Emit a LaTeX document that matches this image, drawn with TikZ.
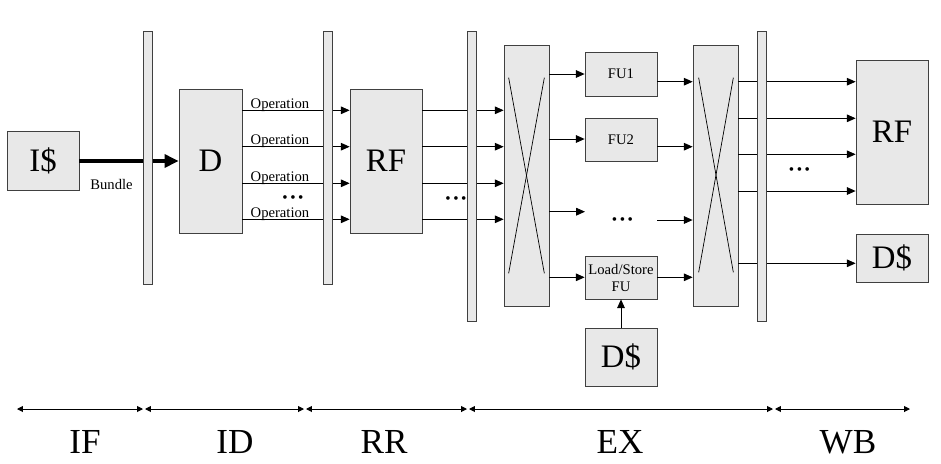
\documentclass[tikz,border=0pt]{standalone}
\usepackage{fontspec}
\setmainfont{Liberation Serif}
\usetikzlibrary{arrows.meta,calc}
\newcommand{\tdots}{\textbullet\kern2.2pt\textbullet\kern2.2pt\textbullet}
\tikzset{
  px/.style 2 args={minimum width=#1*0.03cm, minimum height=#2*0.03cm},
  blk/.style={draw=black!75, fill=black!9, line width=0.6pt, inner sep=0pt},
  latch/.style={blk, minimum width=9*0.03cm},
  big/.style={font=\fontsize{28}{28}\selectfont},
  small/.style={font=\fontsize{12.5}{14.5}\selectfont, align=center},
  dotsnode/.style={font=\fontsize{13}{13}\selectfont, inner sep=0pt, text height=5.5pt, text depth=-1.2pt},
  wire/.style={line width=0.8pt, -{Triangle[length=7.5pt,width=6.5pt]}},
  stagearr/.style={line width=0.8pt, {Triangle[length=5pt,width=5pt]}-{Triangle[length=5pt,width=5pt]}},
  stage/.style={font=\fontsize{30}{30}\selectfont, anchor=base, inner sep=0pt}
}
\begin{document}
\begin{tikzpicture}[x=0.03cm, y=-0.03cm]
  \useasboundingbox (0,0) rectangle (941,463);
  %%%%% BLOCKS %%%%%
  \node[blk, big, px={72}{59}] (icache) at (43,161) {I\$};
  \node[blk, big, px={63}{144}] (dec) at (210.5,161) {D};
  \node[blk, big, px={72}{144}] (rfa) at (386,161) {RF};
  \node[blk, px={45}{261}] (xba) at (526.5,175.5) {};
  \node[blk, small, px={72}{44}] (fua) at (621,74) {FU1};
  \node[blk, small, px={72}{43}] (fub) at (621,139.5) {FU2};
  \node[blk, small, px={72}{43}] (lsu) at (621,277.5) {Load/Store\\FU};
  \node[blk, big, px={72}{58}] (dcachea) at (621,357) {D\$};
  \node[blk, px={45}{261}] (xbb) at (715.5,175.5) {};
  \node[blk, big, px={72}{144}] (rfb) at (892,132) {RF};
  \node[blk, big, px={72}{48}] (dcacheb) at (892,258) {D\$};

  \draw[line width=0.6pt] ($(xba.north west)+(5,33)$) -- ($(xba.south east)+(-5,-33)$);
  \draw[line width=0.6pt] ($(xba.north east)+(-5,33)$) -- ($(xba.south west)+(5,-33)$);
  \draw[line width=0.6pt] ($(xbb.north west)+(6,33)$) -- ($(xbb.south east)+(-5,-34)$);
  \draw[line width=0.6pt] ($(xbb.north east)+(-5,33)$) -- ($(xbb.south west)+(6,-34)$);

  %%%%% WIRES %%%%%
  \draw[line width=3.4pt, -{Triangle[length=12pt,width=11pt]}] (icache.east) -- (dec.west);
  \node[small] (bundle) at (111.5,184) {Bundle};

  \foreach \y [count=\i] in {110.3,146.7,183.3,219.3} {
    \coordinate (op\i) at (0,\y);
    \draw[wire] (dec.east |- op\i) -- (rfa.west |- op\i);
    \draw[wire] (rfa.east |- op\i) -- (xba.west |- op\i);
    \node[small, anchor=base, inner sep=0pt] (oplab\i) at (280,\y-2) {Operation};
  }
  \node[dotsnode] (dotsd) at (293,199.5) {\tdots};
  \node[dotsnode] (dotsr) at (456,200) {\tdots};

  \coordinate (exa) at (0,74);
  \coordinate (exb) at (0,139);
  \coordinate (exc) at (585,211.7);
  \coordinate (exd) at (0,277.3);
  \draw[wire] (xba.east |- exa) -- (fua.west |- exa);
  \draw[wire] (xba.east |- exb) -- (fub.west |- exb);
  \draw[wire] (xba.east |- exc) -- (exc);
  \draw[wire] (xba.east |- exd) -- (lsu.west |- exd);
  \node[dotsnode] (dotsex) at (622.5,221) {\tdots};
  \draw[wire] (dcachea.north) -- (lsu.south);

  \coordinate (ina) at (0,81.7);
  \coordinate (inb) at (0,146.7);
  \coordinate (inc) at (657,220);
  \coordinate (ind) at (0,277.3);
  \draw[wire] (fua.east |- ina) -- (xbb.west |- ina);
  \draw[wire] (fub.east |- inb) -- (xbb.west |- inb);
  \draw[wire] (inc) -- (xbb.west |- inc);
  \draw[wire] (lsu.east |- ind) -- (xbb.west |- ind);

  \foreach \y [count=\i] in {81.7,118.3,154.3,191} {
    \coordinate (wb\i) at (0,\y);
    \draw[wire] (xbb.east |- wb\i) -- (rfb.west |- wb\i);
  }
  \coordinate (wbd) at (0,263.3);
  \draw[wire] (xbb.east |- wbd) -- (dcacheb.west |- wbd);
  \node[dotsnode] (dotswb) at (799.5,171.7) {\tdots};

  %%%%% LATCHES %%%%%
  \node[latch, minimum height=253*0.03cm] (lta) at (147.5,157.5) {};
  \node[latch, minimum height=253*0.03cm] (ltb) at (327.5,157.5) {};
  \node[latch, minimum height=290*0.03cm] (ltc) at (471.5,176) {};
  \node[latch, minimum height=290*0.03cm] (ltd) at (761.5,176) {};

  %%%%% STAGES %%%%%
  \foreach \xa/\xb/\lab/\xl [count=\i] in {17/143/IF/85, 145/304/ID/235, 306/467/RR/384, 469/773/EX/620, 775/910/WB/848} {
    \coordinate (s\i a) at (\xa,409);
    \coordinate (s\i b) at (\xb,409);
    \draw[stagearr] (s\i a) -- (s\i b);
    \node[stage] (st\i) at (\xl,453) {\lab};
  }
\end{tikzpicture}
\end{document}
